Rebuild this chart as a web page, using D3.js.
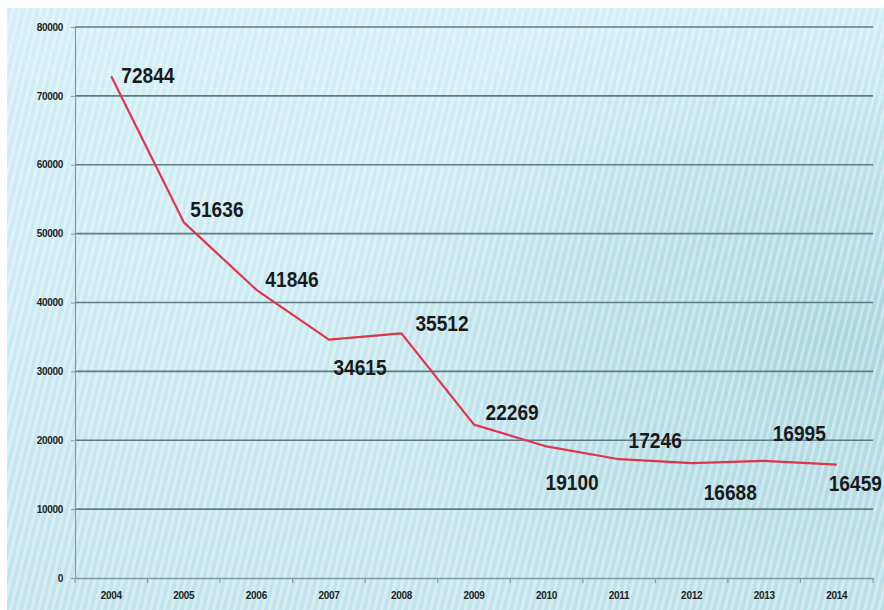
<!DOCTYPE html>
<html>
<head>
<meta charset="utf-8">
<script src="https://cdn.jsdelivr.net/npm/d3@7"></script>
<style>
html,body{margin:0;padding:0;background:#fff;}
svg{display:block;}
</style>
</head>
<body>
<svg id="chart" width="884" height="610"></svg>
<script>
const years = ["2004","2005","2006","2007","2008","2009","2010","2011","2012","2013","2014"];
const values = [72844,51636,41846,34615,35512,22269,19100,17246,16688,16995,16459];
const yTicks = [0,10000,20000,30000,40000,50000,60000,70000,80000];

// label layout offsets (dx from point, dy of label center from point)
const labelOffsets = [[10,-1],[6.5,-13],[9,-11],[4.5,27],[14,-10],[11.5,-13],[-1,36],[9.5,-19],[12,29],[8.5,-28],[-8,18]];

(function(){
const svg = d3.select("#chart");
const W = 884, H = 610;
const mL = 75, mR = 873, mT = 27, mB = 578;
const FONT = "'Liberation Sans', Arial, sans-serif";

const defs = svg.append("defs");
const pat = defs.append("pattern").attr("id","stripes").attr("patternUnits","userSpaceOnUse")
  .attr("width",7).attr("height",40).attr("patternTransform","skewX(-14)");
pat.append("rect").attr("x",0).attr("y",0).attr("width",3).attr("height",40).attr("fill","#ffffff").attr("opacity",0.34);

const rg = defs.append("radialGradient").attr("id","dark").attr("cx","0.95").attr("cy","0.55").attr("r","0.6");
rg.append("stop").attr("offset","0").attr("stop-color","#9fcfd9").attr("stop-opacity",0.75);
rg.append("stop").attr("offset","0.55").attr("stop-color","#a9d5de").attr("stop-opacity",0.45);
rg.append("stop").attr("offset","1").attr("stop-color","#b5dce4").attr("stop-opacity",0);

const lg = defs.append("linearGradient").attr("id","base").attr("x1","0").attr("y1","0").attr("x2","0").attr("y2","1");
lg.append("stop").attr("offset","0").attr("stop-color","#d3f0f7");
lg.append("stop").attr("offset","1").attr("stop-color","#c2e4ec");

svg.append("rect").attr("x",7).attr("y",8).attr("width",W-7).attr("height",H-8).attr("fill","url(#base)");
svg.append("rect").attr("x",7).attr("y",8).attr("width",W-7).attr("height",H-8).attr("fill","url(#dark)");
svg.append("rect").attr("x",7).attr("y",8).attr("width",W-7).attr("height",H-8).attr("fill","url(#stripes)");

const x = d3.scaleBand().domain(years).range([mL,mR]);
const y = d3.scaleLinear().domain([0,80000]).range([mB,mT]);

// gridlines
svg.append("g").selectAll("line").data(yTicks.filter(d=>d>0)).join("line")
  .attr("x1",mL).attr("x2",mR).attr("y1",d=>y(d)).attr("y2",d=>y(d))
  .attr("stroke","#5d7c83").attr("stroke-width",1.6);

// y axis
const yAxis = d3.axisLeft(y).tickValues(yTicks).tickSize(4).tickFormat(d3.format("d"));
const gy = svg.append("g").attr("transform",`translate(${mL},0)`).call(yAxis);
gy.select(".domain").attr("stroke","#7f9da3").attr("stroke-width",1.2);
gy.selectAll(".tick line").attr("stroke","#7f9da3");
gy.selectAll(".tick text").attr("x",-12)
  .style("font-family",FONT).style("font-weight","bold").style("font-size","10px")
  .style("letter-spacing","-0.3px").attr("fill","#222");

// x axis
const xAxis = d3.axisBottom(x).tickSize(0);
const gx = svg.append("g").attr("transform",`translate(0,${mB})`).call(xAxis);
gx.select(".domain").attr("stroke","#7f9da3").attr("stroke-width",1.4);
gx.selectAll(".tick text").attr("y",14)
  .style("font-family",FONT).style("font-weight","bold").style("font-size","10px")
  .style("letter-spacing","-0.3px").attr("fill","#222");
const bounds = years.map(d=>x(d)).concat([x(years[years.length-1])+x.bandwidth()]);
gx.append("g").selectAll("line").data(bounds).join("line")
  .attr("x1",d=>d).attr("x2",d=>d).attr("y1",0).attr("y2",5)
  .attr("stroke","#7f9da3").attr("stroke-width",1.2);

// line
const line = d3.line().x((d,i)=>x(years[i])+x.bandwidth()/2).y(d=>y(d));
svg.append("path").datum(values).attr("d",line)
  .attr("fill","none").attr("stroke","#e0344a").attr("stroke-width",2.2).attr("stroke-linejoin","round");

// labels (condensed)
svg.append("g").selectAll("text").data(values).join("text")
  .attr("transform",(d,i)=>`translate(${x(years[i])+x.bandwidth()/2+labelOffsets[i][0]},${y(d)+labelOffsets[i][1]}) scale(0.87,1)`)
  .attr("dy","0.36em")
  .text(d=>d)
  .style("font-family",FONT)
  .style("font-weight","bold").style("font-size","22px").attr("fill","#1a1a1a");
})();
</script>
</body>
</html>
